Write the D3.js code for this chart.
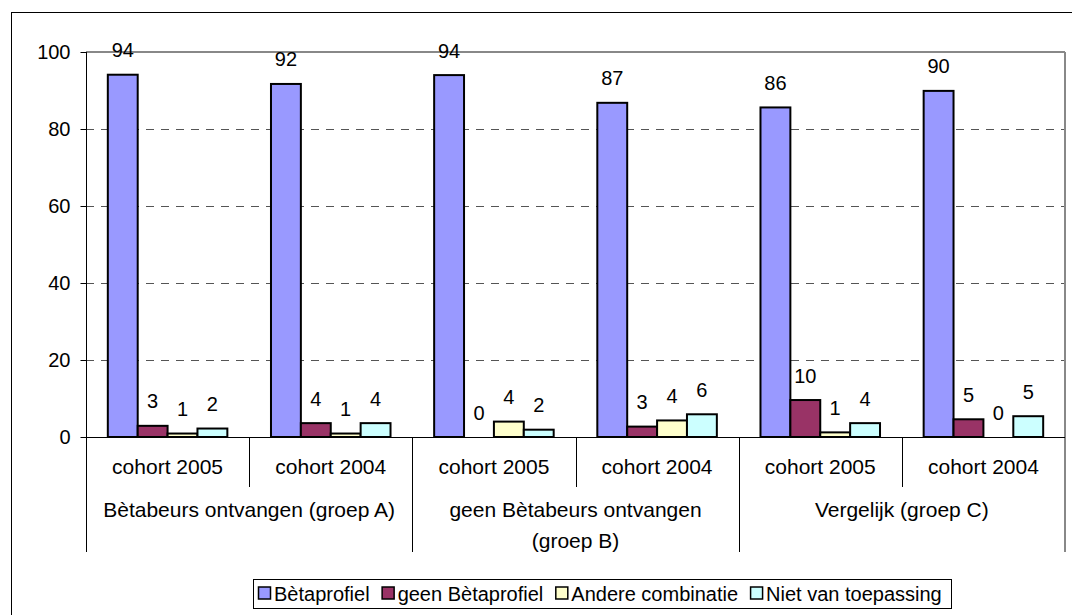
<!DOCTYPE html>
<html><head><meta charset="utf-8">
<script src="https://cdn.jsdelivr.net/npm/d3@7"></script>
<style>
html,body{margin:0;padding:0;background:#fff;}
svg{display:block;font-family:"Liberation Sans",Arial,sans-serif;}
</style></head>
<body>
<svg id="chart" width="1072" height="615"></svg>
<script>
// ---- data ----
const groups = ["Bètabeurs ontvangen (groep A)", "geen Bètabeurs ontvangen|(groep B)", "Vergelijk (groep C)"];
const cohorts = ["cohort 2005", "cohort 2004"];
const series = ["Bètaprofiel", "geen Bètaprofiel", "Andere combinatie", "Niet van toepassing"];
const betaprofiel       = [94.1, 91.7, 94.0, 86.8, 85.6, 89.9];
const geenBetaprofiel   = [2.9, 3.6, 0.0, 2.7, 9.6, 4.6];
const andereCombinatie  = [0.9, 0.9, 4.0, 4.3, 1.2, 0.0];
const nietVanToepassing = [2.2, 3.6, 1.9, 5.9, 3.6, 5.4];
const yTicks = [0, 20, 40, 60, 80, 100];
const colors = ["#9999FF", "#993366", "#FFFFCC", "#CCFFFF"];

const seriesValues = [betaprofiel, geenBetaprofiel, andereCombinatie, nietVanToepassing];
const categories = [];
groups.forEach((g, gi) => cohorts.forEach((c, ci) => categories.push({id: gi * cohorts.length + ci, group: gi, cohort: c})));

// ---- layout ----
const svg = d3.select("#chart");
const L = 86, R = 1065, T = 52, B = 437;
const fs = 20, fsCat = 21;

// outer border
svg.append("rect").attr("x", 11.5).attr("y", 12.5).attr("width", 1100).attr("height", 700)
  .attr("fill", "none").attr("stroke", "#000").attr("stroke-width", 1);

const y = d3.scaleLinear().domain([0, 100]).range([B, T]);
const x0 = d3.scaleBand().domain(categories.map(d => d.id)).range([L, R]).paddingInner(0).paddingOuter(0);
const x1 = d3.scaleBand().domain(d3.range(series.length)).range([0, x0.bandwidth()]).paddingInner(0).paddingOuter(0.73);

// gridlines
svg.append("g").selectAll("line").data(yTicks.filter(t => t > 0 && t < 100)).join("line")
  .attr("x1", L).attr("x2", R).attr("y1", d => Math.round(y(d)) + 0.5).attr("y2", d => Math.round(y(d)) + 0.5)
  .attr("stroke", "#555").attr("stroke-dasharray", "8,7").attr("stroke-width", 1);

// plot border top and right (gray)
svg.append("line").attr("x1", L).attr("x2", R).attr("y1", T).attr("y2", T).attr("stroke", "#888").attr("stroke-width", 2);
svg.append("line").attr("x1", R).attr("x2", R).attr("y1", T).attr("y2", 552).attr("stroke", "#888").attr("stroke-width", 2);

// y axis
const yAxis = d3.axisLeft(y).tickValues(yTicks).tickSize(6).tickPadding(10).tickFormat(d3.format("d"));
const ga = svg.append("g").attr("transform", `translate(${L + 0.5},0)`).call(yAxis);
ga.select(".domain").remove();
ga.selectAll(".tick line").attr("stroke", "#000");
ga.selectAll(".tick text").attr("font-size", fs).attr("fill", "#000").attr("font-family", "Liberation Sans, Arial, sans-serif");
svg.append("line").attr("x1", L + 0.5).attr("x2", L + 0.5).attr("y1", T).attr("y2", 552).attr("stroke", "#000");

// bars
const fmt = d3.format(".0f");
const cg = svg.append("g").selectAll("g").data(categories).join("g")
  .attr("transform", d => `translate(${x0(d.id)},0)`);
cg.selectAll("rect").data(d => seriesValues.map((vals, si) => ({si, v: vals[d.id]}))).join("rect")
  .attr("x", d => x1(d.si)).attr("width", x1.bandwidth())
  .attr("y", d => y(d.v)).attr("height", d => y(0) - y(d.v))
  .attr("fill", d => colors[d.si]).attr("stroke", "#000")
  .attr("stroke-width", d => d.v > 0 ? 2 : 0);
cg.selectAll("text").data(d => seriesValues.map((vals, si) => ({si, v: vals[d.id]}))).join("text")
  .attr("x", d => x1(d.si) + x1.bandwidth() / 2).attr("y", d => y(d.v) - 17.5)
  .attr("text-anchor", "middle").attr("font-size", fs).attr("fill", "#000")
  .text(d => fmt(d.v));

// zero line
svg.append("line").attr("x1", L).attr("x2", R).attr("y1", B + 0.5).attr("y2", B + 0.5).attr("stroke", "#000");

// category separators
const bounds = categories.map(d => x0(d.id)).slice(1);
svg.append("g").selectAll("line").data(bounds).join("line")
  .attr("x1", d => Math.round(d) + 0.5).attr("x2", d => Math.round(d) + 0.5)
  .attr("y1", B).attr("y2", (d, i) => ((i + 1) % cohorts.length === 0) ? 552 : 487)
  .attr("stroke", "#000");

// cohort labels
svg.append("g").selectAll("text").data(categories).join("text")
  .attr("x", d => x0(d.id) + x0.bandwidth() / 2).attr("y", 474)
  .attr("text-anchor", "middle").attr("font-size", fsCat).attr("fill", "#000")
  .text(d => d.cohort);

// group labels
const gx = gi => (x0(gi * cohorts.length) + x0(gi * cohorts.length + cohorts.length - 1) + x0.bandwidth()) / 2;
const gt = svg.append("g").selectAll("text").data(groups).join("text")
  .attr("x", (d, i) => gx(i)).attr("y", 517)
  .attr("text-anchor", "middle").attr("font-size", fsCat).attr("fill", "#000");
gt.selectAll("tspan").data((d, i) => d.split("|").map(s => ({s, i}))).join("tspan")
  .attr("x", d => gx(d.i)).attr("dy", (d, j) => j === 0 ? 0 : 31).text(d => d.s);

// legend
const lg = svg.append("g");
const legL = 253, legR = 951, legT = 579, legB = 608;
lg.append("rect").attr("x", legL + 0.5).attr("y", legT + 0.5).attr("width", legR - legL).attr("height", legB - legT)
  .attr("fill", "#fff").attr("stroke", "#000");
let cx = legL + 5;
const ly = (legT + legB) / 2;
series.forEach((s, i) => {
  lg.append("rect").attr("x", cx + 0.5).attr("y", ly - 6.5).attr("width", 12).attr("height", 12)
    .attr("fill", colors[i]).attr("stroke", "#000").attr("stroke-width", 1.5);
  const t = lg.append("text").attr("x", cx + 16).attr("y", ly).attr("dy", "0.35em")
    .attr("font-size", fs).attr("fill", "#000").text(s);
  cx += 16 + t.node().getComputedTextLength() + 12;
});
</script>
</body></html>
